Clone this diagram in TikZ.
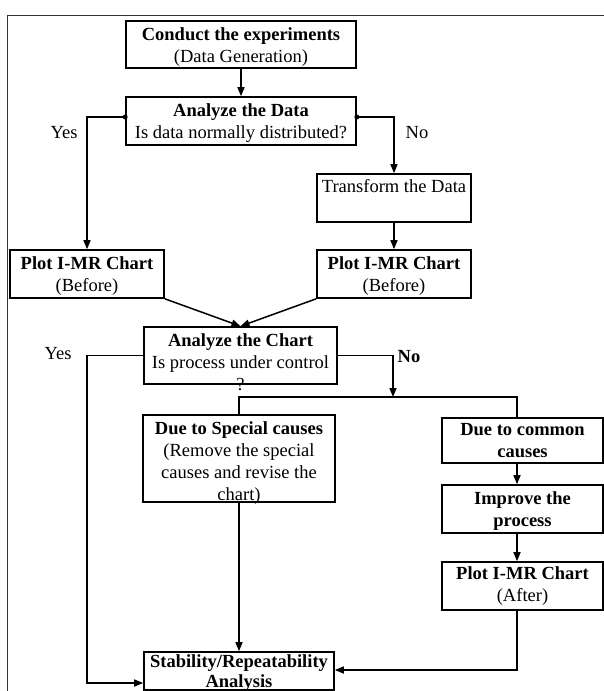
\documentclass[tikz,border=0pt]{standalone}
\usepackage{fontspec}
\setmainfont{Liberation Serif}
\usetikzlibrary{arrows.meta}

\newcommand{\fs}{\fontsize{18.5}{22}\selectfont}
% fixed size box, text hung from the top
\newcommand{\boxtext}[4][19pt]{\parbox[c][#3][t]{#2}{\centering\rule{0pt}{#1}#4}}

\begin{document}
\begin{tikzpicture}[x=1pt,y=-1pt,>={Triangle[length=9pt,width=7pt]},
  box/.style={draw,line width=1.6pt,inner sep=0pt,font=\fs},
  flow/.style={->,line width=1.5pt},
  link/.style={line width=1.5pt},
  lbl/.style={font=\fs,inner sep=0pt}]

  \useasboundingbox (0,0) rectangle (604,691);

  % frame
  \draw[black!80,line width=1pt] (7,691) -- (7,15) -- (604,15);

  % boxes
  \node[box] (conduct) at (241,44.5)
    {\boxtext{230pt}{47pt}{\textbf{Conduct the experiments}\\(Data Generation)}};
  \node[box] (data) at (241,121)
    {\boxtext{230pt}{48pt}{\textbf{Analyze the Data}\\Is data normally distributed?}};
  \node[box] (trans) at (394,198)
    {\boxtext[18pt]{154pt}{48pt}{Transform the Data}};
  \node[box] (plotL) at (87,274)
    {\boxtext{154pt}{48pt}{\textbf{Plot I-MR Chart}\\(Before)}};
  \node[box] (plotR) at (394,274)
    {\boxtext{154pt}{48pt}{\textbf{Plot I-MR Chart}\\(Before)}};
  \node[box] (chart) at (240.5,355.5)
    {\boxtext{193pt}{57pt}{\textbf{Analyze the Chart}\\Is process under control\\?}};
  \node[box] (special) at (239,458.5)
    {\boxtext{192pt}{87pt}{\textbf{Due to Special causes}\\(Remove the special\\causes and revise the\\chart)}};
  \node[box] (common) at (522.5,440.5)
    {\boxtext[17pt]{161pt}{45pt}{\textbf{Due to common}\\\textbf{causes}}};
  \node[box] (improve) at (522.5,509)
    {\boxtext{161pt}{48pt}{\textbf{Improve the}\\\textbf{process}}};
  \node[box] (plotA) at (522.5,586)
    {\boxtext[17pt]{161pt}{48pt}{\textbf{Plot I-MR Chart}\\(After)}};
  \node[box] (stab) at (239,671)
    {\boxtext[15pt]{190pt}{38pt}{\textbf{Stability/Repeatability}\\[-2pt]\textbf{Analysis}}};

  % labels
  \node[lbl] (yes1) at (64,133) {Yes};
  \node[lbl] (no1) at (417,133) {No};
  \node[lbl] (yes2) at (58,354) {Yes};
  \node[lbl] (no2) at (409,357) {\textbf{No}};

  % connectors
  \draw[flow] (conduct) -- (data);
  \draw[flow] ([yshift=4pt]data.west) -| (plotL.north);
  \draw[flow] ([yshift=4pt]data.east) -| (trans.north);
  \fill ([yshift=4pt]data.west) circle (2.5pt);
  \fill ([yshift=4pt]data.east) circle (2.5pt);
  \draw[flow] (trans) -- (plotR);
  \draw[flow] (plotL.south east) -- (chart.north);
  \draw[flow] (plotR.south west) -- (chart.north);

  \coordinate (split) at (393,397);
  \draw[flow] (chart.east) -| (split);
  \draw[link] (special.north) |- (split) -| ([xshift=-5.5pt]common.north);
  \draw[flow] (chart.west) -- (chart.west -| plotL.south)
    |- ([yshift=-12pt]stab.west);

  \draw[flow] ([xshift=-5.5pt]common.south) -- ([xshift=-5.5pt]improve.north);
  \draw[flow] ([xshift=-5.5pt]improve.south) -- ([xshift=-5.5pt]plotA.north);
  \draw[flow] ([xshift=-5.5pt]plotA.south) |- ([yshift=1pt]stab.east);
  \draw[flow] (special) -- (stab);

\end{tikzpicture}
\end{document}
